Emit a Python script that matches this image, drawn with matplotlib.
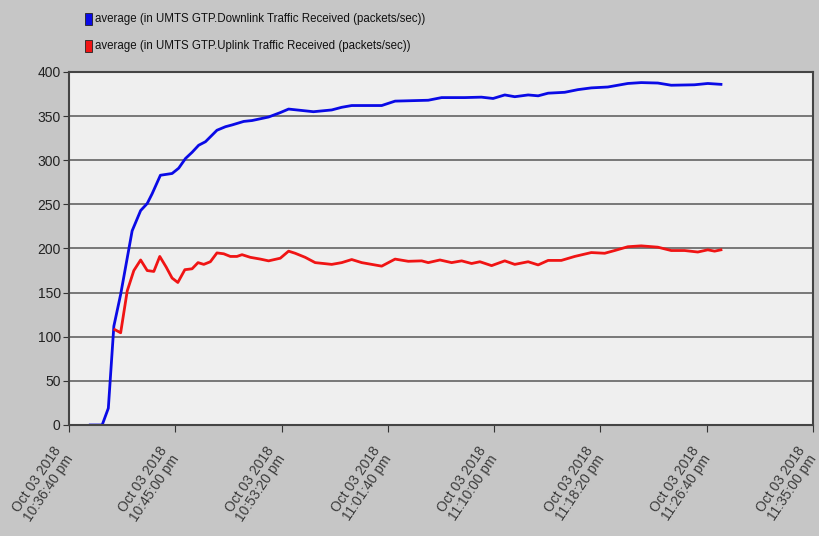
import matplotlib
matplotlib.use("Agg")
import matplotlib.pyplot as plt
import matplotlib.transforms as mtransforms
import numpy as np

# seconds since Oct 03 2018 10:36:40 pm
down_t = [100, 156, 185, 211, 243, 297, 337, 368, 391, 430, 485, 516, 548, 579, 610, 642,
          696, 736, 767, 822, 861, 939, 994, 1033, 1072, 1150, 1236, 1283, 1330, 1471, 1534,
          1690, 1753, 1862, 1940, 1995, 2050, 2097, 2160, 2207, 2254, 2332, 2394, 2457, 2535,
          2629, 2692, 2770, 2833, 2942, 3005, 3067]
down_v = [0, 0, 19, 112, 148, 220, 243, 251, 262, 283, 285, 291, 302, 309, 317, 321,
          334, 338, 340, 344, 345, 349, 354, 358, 357, 355, 357, 360, 362, 362, 367,
          368, 371, 371, 371.5, 370, 374, 372, 374, 373, 376, 377, 380, 382, 383,
          387, 388, 387.5, 385, 385.5, 387, 386]

up_t = [216, 243, 274, 305, 337, 368, 399, 427, 457, 485, 512, 545, 579, 607, 634, 665,
        696, 728, 759, 790, 814, 853, 900, 939, 994, 1033, 1064, 1111, 1158, 1236, 1283,
        1330, 1377, 1471, 1534, 1596, 1659, 1690, 1745, 1800, 1847, 1894, 1933, 1988, 2050,
        2097, 2160, 2207, 2254, 2316, 2379, 2457, 2520, 2567, 2629, 2692, 2770, 2833, 2896,
        2958, 3005, 3037, 3067]
up_v = [108, 104.5, 152, 175, 187, 175, 174, 191, 179, 166.5, 161.5, 176, 177, 184, 182, 185,
        195, 194, 191, 191, 193, 190, 188, 186, 189, 197, 194.6, 190, 184, 182, 184,
        187.5, 184, 180, 188, 185.5, 186, 184, 187, 184, 186, 183, 185, 180.6, 186,
        182, 185, 181.4, 186.5, 186.5, 191, 195.4, 194.6, 197.7, 202, 203, 201.5, 197.7, 197.7,
        196, 198.5, 197, 198.5]

tick_s = [0, 500, 1000, 1500, 2000, 2500, 3000, 3500]
tick_labels = ["Oct 03 2018\n10:36:40 pm", "Oct 03 2018\n10:45:00 pm", "Oct 03 2018\n10:53:20 pm",
               "Oct 03 2018\n11:01:40 pm", "Oct 03 2018\n11:10:00 pm", "Oct 03 2018\n11:18:20 pm",
               "Oct 03 2018\n11:26:40 pm", "Oct 03 2018\n11:35:00 pm"]
y_ticks = [0, 50, 100, 150, 200, 250, 300, 350, 400]

series_names = ["average (in UMTS GTP.Downlink Traffic Received (packets/sec))",
                "average (in UMTS GTP.Uplink Traffic Received (packets/sec))"]

plt.rcParams['font.family'] = ['Liberation Sans', 'DejaVu Sans']

fig = plt.figure(figsize=(8.2, 5.36), dpi=100, facecolor='#c6c6c6')
ax = fig.add_axes([69 / 820, 111 / 536, 744 / 820, 353 / 536])
ax.set_facecolor('#efefef')

ax.plot(down_t, down_v, color='#0a0ae6', lw=2.0, solid_joinstyle='round')
ax.plot(up_t, up_v, color='#f01414', lw=2.0, solid_joinstyle='round')

ax.set_xlim(0, 3500)
ax.set_ylim(0, 400)
ax.set_yticks(y_ticks)
ax.set_yticklabels([str(v) for v in y_ticks], fontsize=10, color='#222222')
ax.set_xticks(tick_s)
ax.set_xticklabels([])
base = mtransforms.blended_transform_factory(ax.transData, ax.transAxes)
shift = mtransforms.ScaledTranslation(-5 / 100, -27 / 100, fig.dpi_scale_trans)
for t, lab in zip(tick_s, tick_labels):
    ax.text(t, 0, lab, transform=base + shift, rotation=56, ha='right', va='center',
            rotation_mode='anchor', fontsize=10, color='#3a3a3a', linespacing=1.0,
            clip_on=False)
ax.tick_params(axis='x', direction='out', length=5, color='#333333')
ax.tick_params(axis='y', direction='out', length=4, color='#333333', pad=2)
ax.yaxis.grid(True, color='#6e6e6e', lw=1.3)
ax.set_axisbelow(True)
for side in ['left', 'bottom', 'top', 'right']:
    ax.spines[side].set_color('#444444')
    ax.spines[side].set_linewidth(1.5)

# legend
colors = ['#0a0ae6', '#f01414']
for i, (name, c) in enumerate(zip(series_names, colors)):
    y = 1 - (19 + 27 * i) / 536
    fig.patches.append(matplotlib.patches.Rectangle((85 / 820, y - 6 / 536), 7 / 820, 12 / 536,
                                                    transform=fig.transFigure, facecolor=c,
                                                    edgecolor='#222222', lw=0.6))
    fig.text(95 / 820, y, name, fontsize=8.3, va='center', ha='left', color='#111111')

fig.savefig('out.png', dpi=100, facecolor=fig.get_facecolor())
